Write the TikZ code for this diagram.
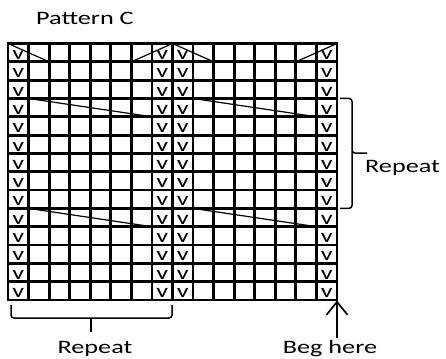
\documentclass[tikz,border=0pt]{standalone}
\usepackage{fontspec}
\setmainfont{Carlito}
\usetikzlibrary{arrows.meta}
\newcommand{\wide}[1]{\scalebox{1.38}[1]{#1}}
\begin{document}
\begin{tikzpicture}[x=1pt,y=-1pt,
  gridline/.style={line width=2.8pt, line cap=rect},
  diag/.style={line width=1.2pt},
  bracestyle/.style={line width=1.5pt, rounded corners=3pt},
  lbl/.style={inner sep=0pt, font=\fontsize{19}{22}\selectfont},
  vmark/.style={inner sep=0pt, anchor=base, font=\fontsize{19}{22}\selectfont}]
\useasboundingbox (0,0) rectangle (446,358);
\def\cw{20.5625}\def\rh{18.3214}\def\xo{8}\def\yo{43.5}
% grid
\foreach \i in {0,...,16} \draw[gridline] (\xo+\i*\cw, \yo) -- (\xo+\i*\cw, \yo+14*\rh);
\foreach \j in {0,...,14} \draw[gridline] (\xo, \yo+\j*\rh) -- (\xo+16*\cw, \yo+\j*\rh);
% v marks
\foreach \c in {0,7,8,15} \foreach \r in {1,...,14}
  \node[vmark] (v-\c-\r) at (\xo+\c*\cw+0.5*\cw, \yo+\r*\rh-2.4) {\wide{v}};
% diagonals
\foreach \h in {0,8} {
  \draw[diag] (\xo+\h*\cw, \yo) -- (\xo+\h*\cw+2*\cw, \yo+\rh);
  \draw[diag] (\xo+\h*\cw+6*\cw, \yo+\rh) -- (\xo+\h*\cw+8*\cw, \yo);
  \draw[diag] (\xo+\h*\cw+\cw, \yo+3*\rh) -- (\xo+\h*\cw+7*\cw, \yo+4*\rh);
  \draw[diag] (\xo+\h*\cw+\cw, \yo+9*\rh) -- (\xo+\h*\cw+7*\cw, \yo+10*\rh);
}
% right brace
\draw[bracestyle] (340, \yo+3*\rh) -- (352, \yo+3*\rh) -- (352,153) -- (367,153);
\draw[bracestyle] (352,151) -- (352, \yo+9*\rh) -- (340, \yo+9*\rh);
% bottom brace
\draw[bracestyle] (11,305) -- (11,318) -- (172,318) -- (172,305);
\draw[line width=1.5pt] (91,318) -- (91,332);
% arrow
\coordinate (tip) at (337,300.5);
\coordinate (tail) at (337,338);
\draw[line width=1.7pt, -{Straight Barb[length=13pt,width=21pt]}] (tail) -- (tip);
% labels
\node[lbl, anchor=base west] (title) at (36,25) {\wide{Pattern C}};
\node[lbl, anchor=base] (rep1) at (95,353) {\wide{Repeat}};
\node[lbl, anchor=base] (beg) at (330,353) {\wide{Beg here}};
\node[lbl, anchor=base west] (rep2) at (365,172) {\wide{Repeat}};
\end{tikzpicture}
\end{document}
